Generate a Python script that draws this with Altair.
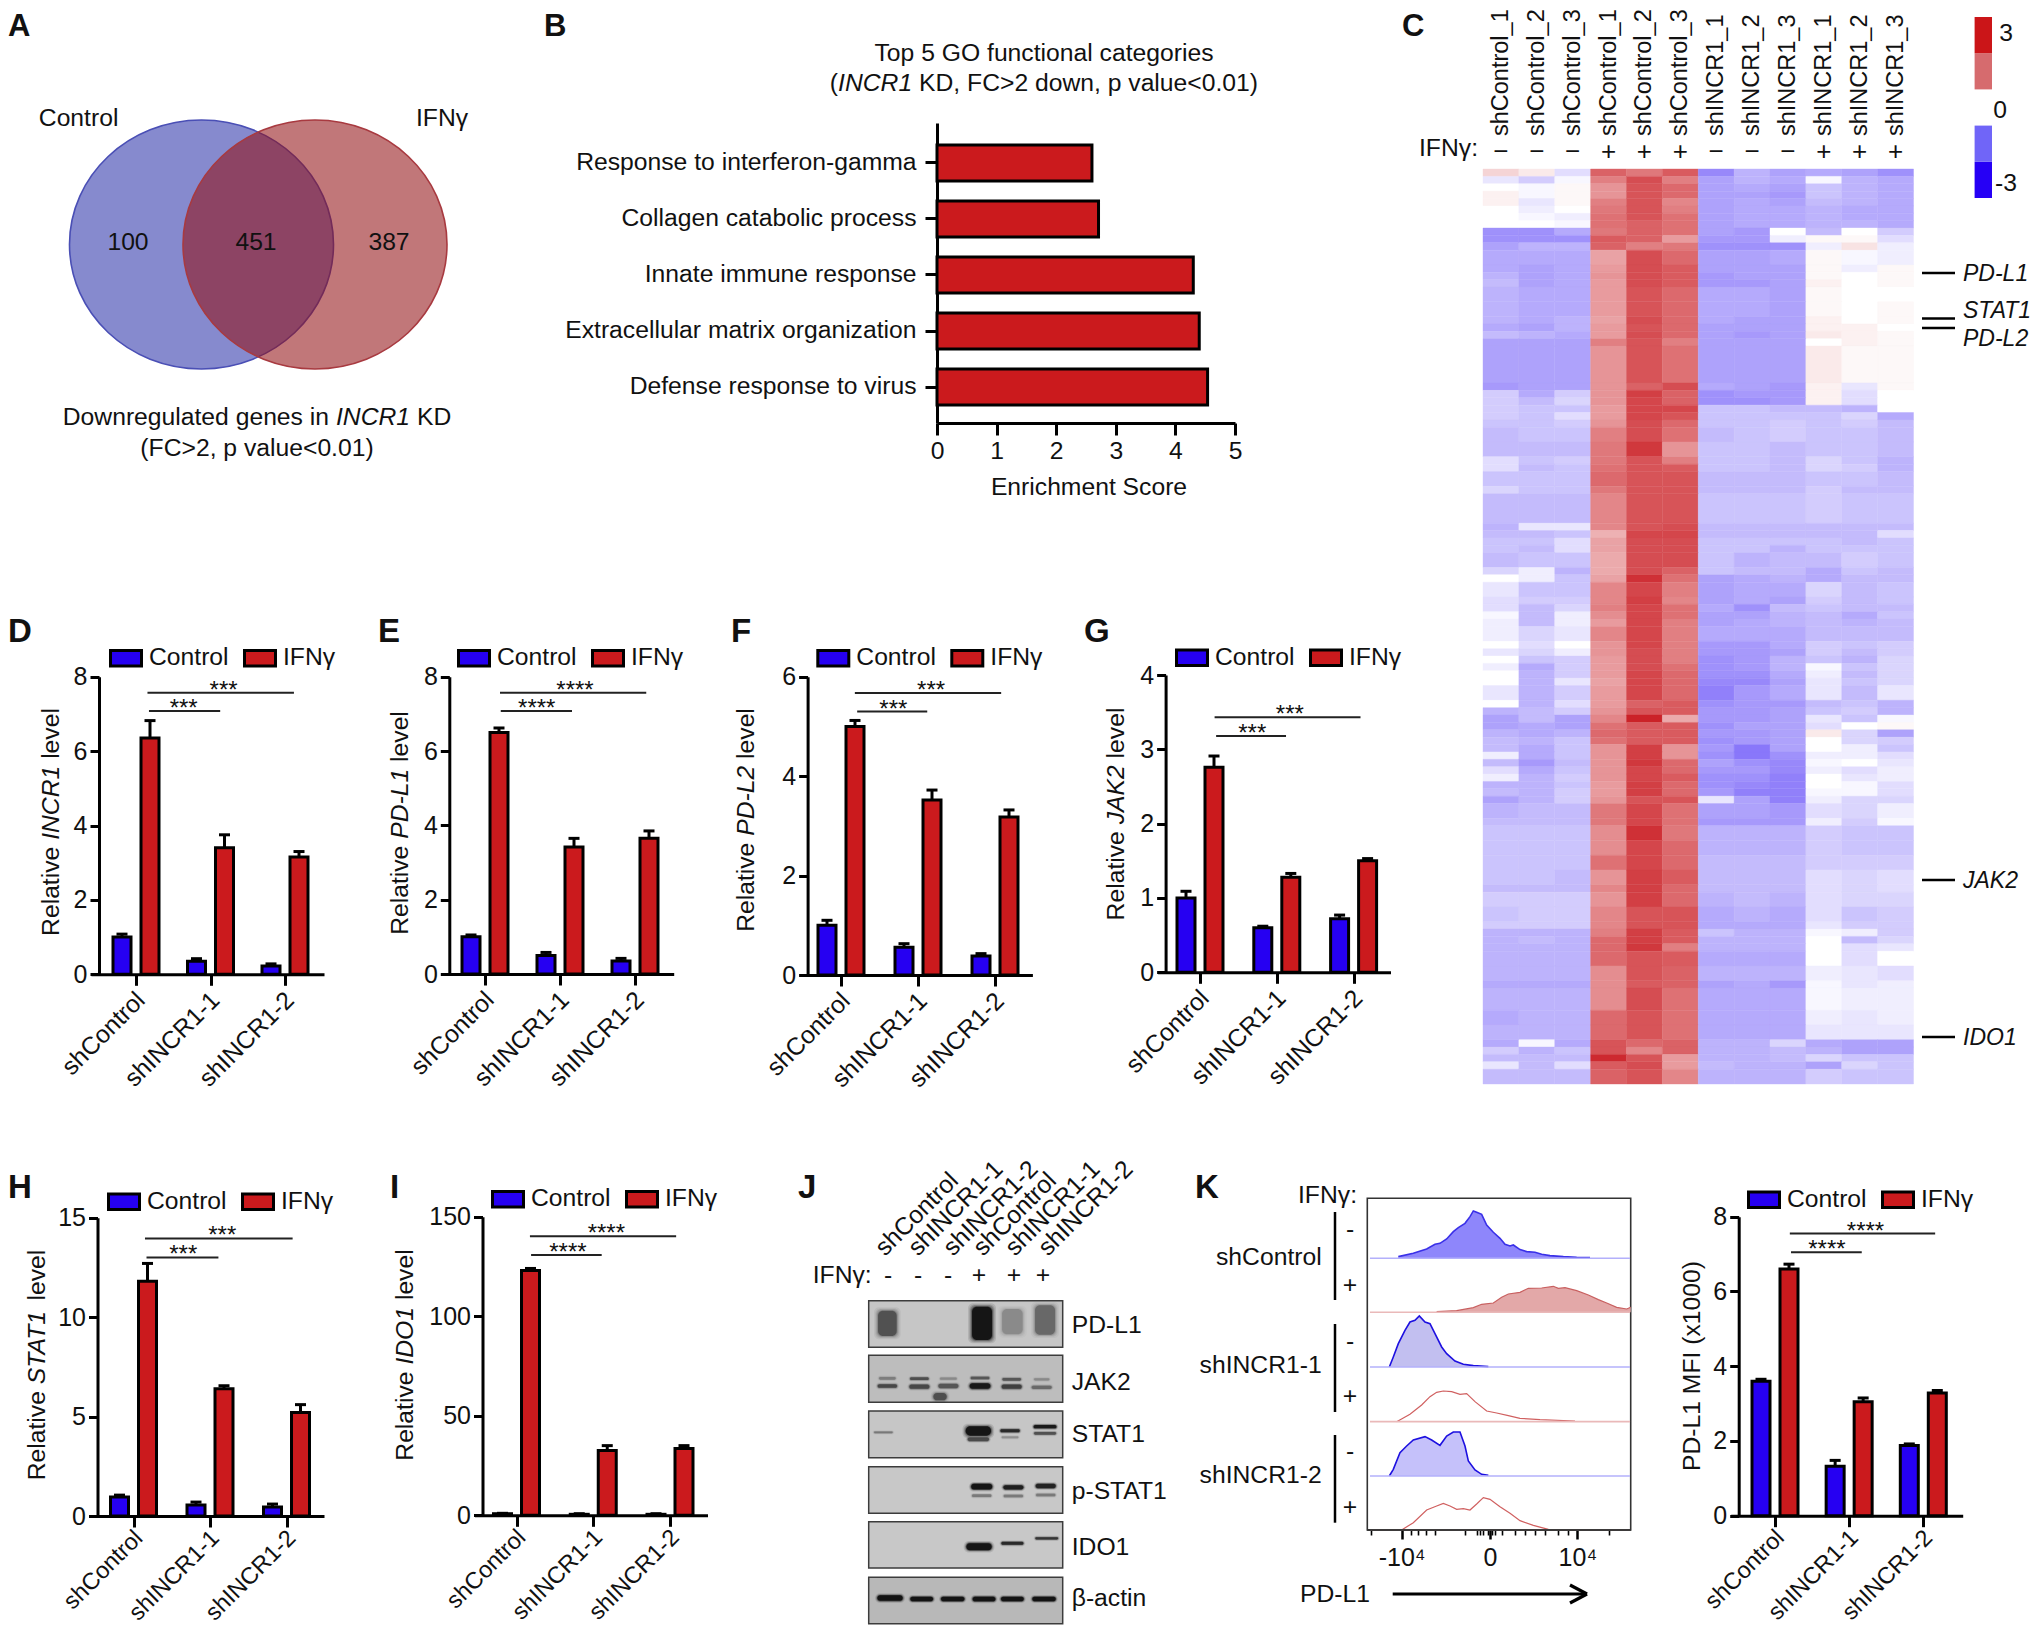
import altair as alt
import pandas as pd

FONT = "Liberation Sans"
W, H = 2024, 1617
M = 8
BLUE, RED = "#2600f2", "#cb1a1d"
INK = "#111111"
FS = 24.7

GROUPS = ["shControl", "shINCR1-1", "shINCR1-2"]

# ---------- panel B ----------
go_terms = ["Response to interferon-gamma", "Collagen catabolic process", "Innate immune response",
            "Extracellular matrix organization", "Defense response to virus"]
go_scores = [2.6, 2.71, 4.3, 4.4, 4.54]

# ---------- qPCR panels ----------
incr1_ctrl, incr1_ctrl_top = [1.0, 0.35, 0.22], [1.08, 0.42, 0.28]
incr1_ifn, incr1_ifn_top = [6.35, 3.4, 3.15], [6.82, 3.75, 3.3]
pdl1_ctrl, pdl1_ctrl_top = [1.0, 0.5, 0.35], [1.05, 0.58, 0.42]
pdl1_ifn, pdl1_ifn_top = [6.5, 3.42, 3.65], [6.62, 3.65, 3.85]
pdl2_ctrl, pdl2_ctrl_top = [1.0, 0.56, 0.38], [1.1, 0.63, 0.43]
pdl2_ifn, pdl2_ifn_top = [5.0, 3.52, 3.18], [5.12, 3.72, 3.32]
jak2_ctrl, jak2_ctrl_top = [1.0, 0.6, 0.72], [1.09, 0.62, 0.77]
jak2_ifn, jak2_ifn_top = [2.76, 1.28, 1.5], [2.91, 1.33, 1.53]
stat1_ctrl, stat1_ctrl_top = [0.95, 0.55, 0.45], [1.05, 0.7, 0.6]
stat1_ifn, stat1_ifn_top = [11.8, 6.4, 5.2], [12.7, 6.55, 5.6]
ido1_ctrl, ido1_ctrl_top = [0.8, 0.5, 0.5], [1.0, 0.8, 0.8]
ido1_ifn, ido1_ifn_top = [123, 32.5, 33.5], [124, 35, 35]
mfi_ctrl, mfi_ctrl_top = [3.6, 1.32, 1.88], [3.65, 1.48, 1.92]
mfi_ifn, mfi_ifn_top = [6.6, 3.05, 3.28], [6.73, 3.15, 3.35]

PANELS = [
    dict(c=incr1_ctrl, ct=incr1_ctrl_top, i=incr1_ifn, it=incr1_ifn_top, ymax=8, ticks=[0, 2, 4, 6, 8],
         x0=99, y0=974.3, ytop=676.7, xend=324, g0=136, g2=285, leg=(109, 656.7),
         up=(0.154, 2.12, 7.57, 1.176), lo=(0.174, 1.13, 7.08, 0.64), star="***",
         title=[("Relative ", 0), ("INCR1", 1), (" level", 0)], tx=52, ty=822),
    dict(c=pdl1_ctrl, ct=pdl1_ctrl_top, i=pdl1_ifn, it=pdl1_ifn_top, ymax=8, ticks=[0, 2, 4, 6, 8],
         x0=449.3, y0=974, ytop=676.7, xend=673.7, g0=485, g2=635, leg=(457, 656.7),
         up=(0.2, 2.15, 7.57, 1.2), lo=(0.21, 1.16, 7.08, 0.69), star="****",
         title=[("Relative ", 0), ("PD-L1", 1), (" level", 0)], tx=401, ty=823),
    dict(c=pdl2_ctrl, ct=pdl2_ctrl_top, i=pdl2_ifn, it=pdl2_ifn_top, ymax=6, ticks=[0, 2, 4, 6],
         x0=807.6, y0=975, ytop=676.7, xend=1032.4, g0=841, g2=995, leg=(816.3, 656.7),
         up=(0.18, 2.08, 5.67, 1.17), lo=(0.21, 1.12, 5.3, 0.68), star="***",
         title=[("Relative ", 0), ("PD-L2", 1), (" level", 0)], tx=746.7, ty=820),
    dict(c=jak2_ctrl, ct=jak2_ctrl_top, i=jak2_ifn, it=jak2_ifn_top, ymax=4, ticks=[0, 1, 2, 3, 4],
         x0=1165.6, y0=972.3, ytop=675, xend=1390.5, g0=1200, g2=1353.6, leg=(1175, 656),
         up=(0.19, 2.09, 3.43, 1.17), lo=(0.21, 1.12, 3.18, 0.68), star="***",
         title=[("Relative ", 0), ("JAK2", 1), (" level", 0)], tx=1117, ty=814),
    dict(c=stat1_ctrl, ct=stat1_ctrl_top, i=stat1_ifn, it=stat1_ifn_top, ymax=15, ticks=[0, 5, 10, 15],
         x0=97.5, y0=1516, ytop=1217.7, xend=324, g0=133.5, g2=286.5, leg=(107, 1200),
         up=(0.15, 2.08, 13.96, 1.16), lo=(0.17, 1.11, 13.0, 0.65), star="***",
         title=[("Relative ", 0), ("STAT1", 1), (" level", 0)], tx=37.5, ty=1365),
    dict(c=ido1_ctrl, ct=ido1_ctrl_top, i=ido1_ifn, it=ido1_ifn_top, ymax=150, ticks=[0, 50, 100, 150],
         x0=482.5, y0=1515.3, ytop=1216.7, xend=707.5, g0=516.5, g2=670, leg=(491, 1197.7),
         up=(0.175, 2.08, 140.2, 1.17), lo=(0.19, 1.11, 130.7, 0.67), star="****",
         title=[("Relative ", 0), ("IDO1", 1), (" level", 0)], tx=406, ty=1355),
    dict(c=mfi_ctrl, ct=mfi_ctrl_top, i=mfi_ifn, it=mfi_ifn_top, ymax=8, ticks=[0, 2, 4, 6, 8],
         x0=1738.7, y0=1515.7, ytop=1216.7, xend=1962.7, g0=1775, g2=1923.3, leg=(1747, 1198),
         up=(0.2, 2.16, 7.55, 1.22), lo=(0.216, 1.17, 7.05, 0.70), star="****",
         title=[("PD-L1 MFI (x1000)", 0)], tx=1692.7, ty=1366),
]

# ---------- panel C : heat map, (rows, values in tenths) top to bottom ----------
heat_cols = ["shControl_1", "shControl_2", "shControl_3"] * 2 + ["shINCR1_1", "shINCR1_2", "shINCR1_3"] * 2
heat_signs = ["\u2212"] * 3 + ["+"] * 3 + ["\u2212"] * 3 + ["+"] * 3
heat_bands = [
    (1, [6, 3, -4, 22, 19, 23, -14, -9, -11, -10, -11, -13]),
    (1, [-3, -6, -1, 18, 25, 18, -11, -9, -10, -1, -9, -10]),
    (1, [0, -1, 1, 15, 24, 21, -11, -10, -11, -7, -9, -10]),
    (1, [2, -1, 1, 15, 24, 21, -11, -11, -12, -7, -9, -10]),
    (1, [2, -3, 1, 18, 24, 17, -11, -10, -11, -8, -9, -10]),
    (1, [0, -2, 0, 19, 24, 18, -11, -10, -10, -9, -10, -10]),
    (1, [0, -1, -2, 20, 24, 20, -11, -10, -10, -9, -10, -10]),
    (1, [0, 0, -1, 20, 22, 20, -11, -10, -10, -9, -9, -10]),
    (1, [-13, -13, -10, 19, 22, 20, -11, -12, 0, -8, 0, -6]),
    (1, [-13, -13, -13, 23, 22, 14, -12, -12, -2, 1, 1, -4]),
    (1, [-11, -9, -9, 22, 18, 19, -13, -13, -13, -2, 4, -2]),
    (2, [-10, -10, -10, 13, 25, 21, -11, -11, -10, 1, -1, -2]),
    (1, [-10, -11, -10, 14, 25, 23, -11, -11, -11, 1, -2, 1]),
    (1, [-9, -11, -10, 15, 25, 23, -12, -11, -11, 1, 0, 1]),
    (1, [-8, -11, -10, 14, 25, 23, -12, -12, -11, 2, 0, 1]),
    (2, [-9, -10, -10, 14, 24, 21, -10, -10, -11, 1, 0, 0]),
    (2, [-9, -10, -10, 14, 24, 21, -10, -10, -11, 1, 0, 1]),
    (1, [-9, -10, -9, 13, 25, 21, -10, -11, -11, 2, 0, 1]),
    (1, [-10, -11, -9, 14, 24, 21, -11, -11, -11, 2, 2, 0]),
    (1, [-8, -9, -10, 14, 25, 21, -11, -12, -11, 3, 2, 1]),
    (1, [-11, -11, -11, 18, 24, 18, -11, -11, -11, 0, 2, 1]),
    (5, [-11, -11, -11, 15, 24, 20, -11, -11, -11, 3, 1, 1]),
    (1, [-12, -11, -11, 15, 22, 25, -10, -11, -12, 2, -3, 1]),
    (1, [-6, -10, -6, 15, 27, 22, -13, -12, -12, 2, -4, 0]),
    (1, [-6, -8, -5, 15, 26, 22, -13, -13, -12, 2, -4, 0]),
    (1, [-6, -7, -7, 14, 26, 26, -7, -7, -8, -8, -9, 0]),
    (1, [-6, -7, -4, 14, 26, 24, -7, -7, -7, -7, -5, -10]),
    (1, [-7, -7, -6, 15, 25, 21, -7, -7, -6, -7, -6, -8]),
    (2, [-8, -7, -7, 18, 25, 20, -8, -7, -6, -7, -7, -8]),
    (2, [-8, -8, -8, 19, 28, 15, -7, -7, -8, -7, -7, -8]),
    (1, [-4, -7, -6, 19, 24, 18, -7, -7, -8, -5, -7, -9]),
    (1, [-4, -8, -7, 20, 24, 23, -7, -7, -8, -5, -6, -9]),
    (2, [-7, -7, -7, 21, 24, 24, -8, -8, -8, -7, -7, -8]),
    (1, [-5, -7, -7, 19, 24, 24, -8, -8, -8, -6, -8, -8]),
    (4, [-8, -8, -8, 17, 24, 24, -7, -7, -7, -6, -7, -7]),
    (1, [-9, -3, -3, 17, 24, 25, -8, -8, -8, -8, -8, -8]),
    (1, [-8, -8, -7, 11, 26, 26, -8, -8, -8, -8, -8, -4]),
    (1, [-7, -7, -4, 13, 25, 25, -7, -7, -7, -7, -8, -7]),
    (1, [-7, -8, -4, 13, 25, 25, -7, -7, -9, -7, -7, -7]),
    (2, [-8, -7, -7, 12, 25, 25, -7, -9, -8, -8, -6, -7]),
    (1, [-5, -2, -9, 12, 25, 22, -7, -8, -8, -10, -7, -8]),
    (1, [0, -2, -7, 13, 29, 20, -11, -10, -9, -10, -8, -8]),
    (2, [-3, -7, -7, 17, 26, 18, -11, -10, -10, -5, -8, -7]),
    (1, [-4, -6, -6, 17, 27, 17, -11, -10, -11, -6, -8, -7]),
    (1, [-4, -8, -5, 18, 26, 20, -10, -13, -8, -7, -8, -8]),
    (1, [-1, -8, -2, 16, 26, 20, -11, -11, -9, -8, -10, -7]),
    (1, [-2, -8, -2, 14, 26, 18, -11, -10, -9, -8, -9, -8]),
    (2, [-2, -5, -3, 17, 26, 18, -10, -10, -10, -8, -8, -8]),
    (1, [0, -4, 0, 15, 26, 18, -12, -12, -10, -6, -7, -6]),
    (1, [-3, -5, -2, 15, 25, 18, -12, -12, -11, -6, -8, -6]),
    (1, [0, -7, -6, 14, 25, 18, -13, -12, -9, -7, -9, -5]),
    (1, [-2, -10, -6, 14, 25, 20, -13, -12, -9, -1, -7, -5]),
    (1, [0, -9, -6, 14, 26, 21, -13, -13, -10, -2, -8, -5]),
    (1, [0, -9, -3, 13, 26, 21, -14, -14, -11, -3, -7, -5]),
    (2, [-3, -9, -6, 14, 26, 21, -15, -12, -10, -3, -8, -3]),
    (1, [0, -9, -4, 14, 22, 23, -13, -12, -12, -8, -7, -9]),
    (1, [-9, -8, -6, 15, 24, 23, -12, -12, -11, -7, -6, -9]),
    (1, [-11, -8, -11, 17, 31, 12, -12, -12, -11, -3, -7, -1]),
    (1, [-11, -10, -11, 20, 23, 23, -13, -11, -11, -4, 0, 1]),
    (1, [-9, -10, -9, 21, 23, 23, -12, -12, -11, 3, -5, -11]),
    (1, [-8, -9, -7, 20, 23, 23, -13, -12, -11, 0, -5, -6]),
    (1, [-8, -10, -7, 15, 27, 15, -12, -16, -11, 0, -2, -7]),
    (1, [-2, -10, -7, 15, 27, 15, -13, -16, -13, -2, -2, -4]),
    (1, [-8, -12, -8, 15, 28, 21, -11, -13, -14, -1, 0, -3]),
    (1, [-4, -10, -7, 15, 26, 21, -12, -12, -14, -2, -4, -2]),
    (1, [-2, -9, -6, 15, 26, 23, -13, -13, -15, 0, -3, -2]),
    (1, [-9, -9, -7, 14, 27, 21, -13, -14, -15, 0, -1, -4]),
    (1, [-8, -9, -6, 14, 27, 21, -12, -15, -15, -1, -1, -4]),
    (1, [-11, -9, -6, 15, 24, 24, -3, -11, -15, -2, -5, -5]),
    (2, [-9, -8, -8, 19, 26, 20, -11, -11, -12, -4, -5, -2]),
    (1, [-8, -8, -8, 19, 26, 20, -12, -12, -12, -2, -6, -1]),
    (2, [-7, -7, -7, 16, 29, 19, -9, -9, -9, -6, -7, -7]),
    (2, [-7, -7, -7, 16, 26, 21, -9, -9, -9, -6, -7, -7]),
    (2, [-7, -7, -7, 20, 26, 21, -8, -8, -8, -6, -6, -6]),
    (2, [-7, -7, -8, 15, 27, 23, -8, -8, -8, -4, -5, -4]),
    (1, [-8, -8, -8, 17, 27, 21, -8, -8, -8, -4, -5, -4]),
    (2, [-6, -6, -6, 15, 27, 21, -9, -8, -9, -4, -5, -5]),
    (2, [-7, -6, -6, 17, 24, 24, -10, -9, -10, -4, -7, -6]),
    (1, [-6, -6, -6, 17, 24, 24, -10, -10, -10, -3, -6, -6]),
    (1, [-9, -9, -9, 18, 27, 23, -7, -9, -9, -1, -2, -6]),
    (1, [-9, -8, -9, 21, 27, 23, -9, -9, -9, 0, -8, -5]),
    (1, [-9, -9, -9, 21, 28, 18, -9, -9, -9, 0, -4, -3]),
    (2, [-9, -9, -9, 21, 24, 23, -10, -10, -10, 0, -4, 0]),
    (2, [-9, -9, -9, 16, 24, 22, -9, -9, -9, -2, -3, -4]),
    (1, [-10, -10, -10, 16, 23, 22, -11, -10, -12, -1, -3, -2]),
    (3, [-9, -9, -9, 16, 25, 20, -10, -10, -10, -1, -2, -2]),
    (2, [-10, -9, -9, 21, 24, 20, -10, -10, -10, -2, -3, -2]),
    (2, [-9, -9, -9, 21, 24, 20, -10, -10, -10, -3, -3, -3]),
    (1, [-10, -1, -10, 24, 21, 22, -9, -9, -5, -10, -11, -11]),
    (1, [-6, -9, -7, 24, 17, 22, -9, -9, -8, -9, -11, -11]),
    (1, [-8, -8, -8, 30, 24, 14, -9, -9, -8, -5, -7, -7]),
    (1, [-3, -8, -4, 23, 25, 14, -8, -9, -9, -11, -5, -7]),
    (2, [-8, -8, -8, 22, 24, 17, -9, -9, -9, -6, -7, -7]),
]
heat_key_lo = [-3, -1.8, 0.6, 1.8]
heat_key_hi = [-1.8, -0.6, 1.8, 3]
heat_key_col = ["#2600f5", "#7065f8", "#d66b6e", "#cb1518"]

# ---------- panel J : blots (gel image position), bands (cx, cy, w, h, darkness) ----------
blot_names = ["PD-L1", "JAK2", "STAT1", "p-STAT1", "IDO1", "\u03b2-actin"]
blot_top = [452, 616, 783, 950, 1115, 1282]
blot_bottom = [592, 757, 923, 1090, 1254, 1421]
blot_grey = ["#c6c6c6", "#bdbdbd", "#c6c6c6", "#c8c8c8", "#c8c8c8", "#b8b8b8"]
blot_bands = [
    (322, 520, 56, 76, .5), (606, 520, 60, 100, 1), (697, 515, 62, 76, .22), (795, 510, 60, 88, .38),
    (322, 708, 58, 11, .55), (322, 685, 50, 8, .25), (418, 710, 60, 13, .55), (418, 686, 56, 8, .5),
    (505, 708, 60, 13, .45), (505, 686, 50, 7, .2), (480, 740, 40, 22, .5), (600, 708, 62, 17, .95),
    (600, 684, 56, 8, .45), (695, 710, 60, 13, .6), (695, 688, 56, 8, .45), (785, 712, 60, 10, .35),
    (785, 688, 46, 7, .2), (310, 847, 56, 5, .3), (595, 843, 76, 28, 1), (595, 868, 64, 11, .55),
    (690, 842, 58, 9, .8), (690, 862, 50, 6, .2), (795, 830, 68, 10, .95), (795, 850, 66, 8, .5),
    (605, 1010, 63, 17, 1), (605, 1037, 58, 8, .3), (700, 1012, 60, 13, .9), (700, 1038, 58, 8, .3),
    (797, 1008, 60, 13, .85), (797, 1035, 58, 8, .3), (597, 1190, 76, 21, 1), (697, 1180, 66, 9, .8),
    (800, 1165, 68, 7, .7), (330, 1344, 76, 17, 1), (425, 1347, 68, 13, 1), (518, 1347, 70, 13, 1),
    (612, 1347, 68, 14, 1), (697, 1347, 68, 13, 1), (792, 1347, 70, 13, 1),
]

# ---------- panel K : histograms (channel position, event height) ----------
hist_base = [325, 487, 651, 815, 978, 1140]
hist_x = [
    [655, 700, 740, 765, 780, 800, 820, 835, 855, 870, 880, 890, 905, 920, 940, 960, 975, 990, 1000, 1020, 1040, 1065, 1085, 1110, 1150, 1190, 1230],
    [770, 830, 880, 905, 940, 965, 985, 1020, 1045, 1085, 1120, 1135, 1155, 1190, 1225, 1255, 1280, 1310, 1340, 1352],
    [628, 640, 655, 675, 690, 705, 718, 735, 750, 765, 785, 800, 825, 850, 880, 925],
    [650, 690, 725, 750, 770, 790, 815, 840, 860, 885, 920, 950, 985, 1020, 1080, 1185],
    [628, 640, 660, 680, 700, 735, 755, 780, 800, 820, 840, 855, 865, 885, 905, 925],
    [665, 700, 740, 770, 790, 810, 830, 850, 870, 890, 910, 930, 960, 990, 1020, 1060, 1105],
]
hist_h = [
    [5, 15, 28, 42, 45, 58, 80, 92, 105, 125, 142, 138, 132, 100, 78, 60, 42, 37, 40, 26, 20, 18, 12, 8, 5, 3, 2],
    [2, 5, 14, 24, 28, 45, 55, 60, 72, 73, 78, 72, 74, 65, 52, 38, 28, 15, 10, 15],
    [0, 30, 70, 110, 135, 140, 153, 135, 130, 100, 60, 40, 18, 8, 4, 1],
    [0, 22, 50, 75, 88, 92, 90, 82, 84, 60, 32, 26, 18, 10, 6, 2],
    [0, 20, 70, 90, 108, 118, 108, 92, 120, 132, 132, 90, 45, 18, 5, 2],
    [0, 22, 60, 72, 80, 72, 62, 64, 60, 78, 97, 92, 70, 50, 28, 14, 2],
]
hist_fill = ["#8e86fb", "#e3a8a8", "#c2bff0", "#ffffff", "#c5c1fa", "#ffffff"]
hist_line = ["#3a30e8", "#c86060", "#1d10e0", "#d06060", "#1d10e0", "#d06060"]
hist_foot = ["#b3b0fb", "#eab9b9", "#b3b0fb", "#eab9b9", "#b3b0fb", "#eab9b9"]
flow_minor = [574, 693, 715, 737, 766, 855, 890, 900, 910, 925, 935, 945, 965, 1005, 1035, 1065, 1095, 1135, 1165, 1288]

# ---------- helpers ----------
CW = {' ': 278, '(': 333, ')': 333, ',': 278, '-': 333, '.': 278, '<': 584, '>': 584, '_': 556,
      'A': 667, 'B': 667, 'C': 722, 'D': 722, 'E': 667, 'F': 611, 'G': 778, 'H': 722, 'I': 278, 'J': 500, 'K': 667,
      'L': 556, 'M': 833, 'N': 722, 'O': 778, 'P': 667, 'Q': 778, 'R': 722, 'S': 667, 'T': 611, 'U': 722, 'V': 667,
      'W': 944, 'X': 667, 'Y': 667, 'Z': 611, 'a': 556, 'b': 556, 'c': 500, 'd': 556, 'e': 556, 'f': 278, 'g': 556,
      'h': 556, 'i': 222, 'j': 222, 'k': 500, 'l': 222, 'm': 833, 'n': 556, 'o': 556, 'p': 556, 'q': 556, 'r': 333,
      's': 500, 't': 278, 'u': 556, 'v': 500, 'w': 722, 'x': 500, 'y': 500, 'z': 500}


def tw(s, size=FS):
    return sum(CW.get(ch, 556) for ch in s) * size / 1000


LABELS = []
LINES = []


def lab(t, x, y, size=FS, align="center", baseline="middle", style="normal", weight="normal", angle=0):
    LABELS.append(dict(t=t, x=max(x, 8) - M, y=y - M + (1 if baseline == "middle" and angle == 0 else 0),
                       size=size, align=align, baseline=baseline, style=style, weight=weight, angle=angle))


def rich_h(parts, cx, y, size=FS):
    total = sum(tw(p, size) for p, _ in parts)
    x = cx - total / 2
    for p, it in parts:
        lead = tw(p[: len(p) - len(p.lstrip())], size)
        lab(p.strip(), x + lead, y, size, "left", "middle", "italic" if it else "normal")
        x += tw(p, size)


def rich_v(parts, x, cy, size=FS):
    total = sum(tw(p, size) for p, _ in parts)
    y = cy + total / 2
    for p, it in parts:
        lead = tw(p[: len(p) - len(p.lstrip())], size)
        lab(p.strip(), x, y - lead, size, "left", "middle", "italic" if it else "normal", angle=270)
        y -= tw(p, size)


def line(x, y, x2, y2, width=2.5, color="black"):
    LINES.append(dict(x=x - M, y=y - M, x2=x2 - M, y2=y2 - M, width=width, color=color))


layers = []

# ---------- letters ----------
for t, x, y, sz in [("A", 8, 36, 31), ("B", 544, 36, 31), ("C", 1402, 36, 31), ("D", 8, 642, 33), ("E", 378, 642, 33),
                    ("F", 731, 642, 33), ("G", 1084, 642, 33), ("H", 8, 1198, 33), ("I", 390, 1198, 33),
                    ("J", 798, 1198, 33), ("K", 1195, 1198, 33)]:
    lab(t, x, y, sz, "left", "alphabetic", weight="bold")

# ---------- A : Venn ----------
venn = pd.DataFrame({"set": ["Control", "IFNγ"], "x": [201.5 - M, 315 - M], "y": [244.5 - M, 244.5 - M]})
ELL = "M-1,0A1,0.943,0,1,1,1,0A1,0.943,0,1,1,-1,0Z"
for name, fill, stroke in [("Control", "#2a31a8", "#4a4fb5"), ("IFNγ", "#921014", "#a83a40")]:
    layers.append(alt.Chart(venn[venn.set == name]).mark_point(
        shape=ELL, size=264 ** 2, filled=True, fill=fill, fillOpacity=.57, stroke=stroke, strokeWidth=1.6, strokeOpacity=1
    ).encode(x=alt.X("x:Q", scale=None, axis=None), y=alt.Y("y:Q", scale=None, axis=None)))
lab("Control", 78.6, 117.7)
lab("IFNγ", 442, 117.7)
lab("100", 128, 242)
lab("451", 256, 242)
lab("387", 389, 242)
rich_h([("Downregulated genes in ", 0), ("INCR1", 1), (" KD", 0)], 257, 417)
lab("(FC>2, p value<0.01)", 257, 447.7)

# ---------- B ----------
b_df = pd.DataFrame({"term": go_terms, "score": go_scores})
layers.append(alt.Chart(b_df).mark_bar(fill=RED, stroke="black", strokeWidth=3).encode(
    x=alt.X("score:Q", scale=alt.Scale(domain=[0, 5], range=[937 - M, 1235 - M], nice=False),
            axis=alt.Axis(orient="bottom", offset=423 - M - H, values=[0, 1, 2, 3, 4, 5], title=None, grid=False,
                          domainWidth=3, tickWidth=3, tickSize=12, labelFontSize=FS, labelPadding=3, labelFlush=False,
                          labelFont=FONT, labelColor=INK, domainColor="black", tickColor="black")),
    y=alt.Y("term:N", sort=go_terms,
            scale=alt.Scale(domain=go_terms, range=[123 - M, 423 - M], paddingInner=.357, paddingOuter=.357, align=.55),
            axis=alt.Axis(orient="left", offset=-(937 - M), title=None, grid=False, domainWidth=3, tickWidth=3,
                          tickSize=12, labelFontSize=FS, labelPadding=9, labelFont=FONT, labelColor=INK,
                          domainColor="black", tickColor="black", labelLimit=500)),
))
lab("Top 5 GO functional categories", 1044, 53)
rich_h([("(", 0), ("INCR1", 1), (" KD, FC>2 down, p value<0.01)", 0)], 1044, 83)
lab("Enrichment Score", 1089, 487)

# ---------- bar panels ----------
for p in PANELS:
    low_row = p["y0"] > 1200
    sp = (p["g2"] - p["g0"]) / 2
    dom = [(p["x0"] - 8 - p["g0"]) / sp, (p["xend"] - p["g0"]) / sp]
    xs = alt.Scale(domain=dom, range=[p["x0"] - 8 - M, p["xend"] - M], nice=False, zero=False)
    ys = alt.Scale(domain=[0, p["ymax"]], range=[p["y0"] - M, p["ytop"] - M], nice=False)
    off, half, cap = 14 / sp, 9 / sp, 5.5 / sp
    rows = []
    for g in range(3):
        rows.append(dict(series="Control", xa=g - off - half, xb=g - off + half, xc=g - off, xl=g - off - cap,
                         xr=g - off + cap, v=p["c"][g], top=p["ct"][g], zero=0))
        rows.append(dict(series="IFNγ", xa=g + off - half, xb=g + off + half, xc=g + off, xl=g + off - cap,
                         xr=g + off + cap, v=p["i"][g], top=p["it"][g], zero=0))
    df = pd.DataFrame(rows)
    nx = alt.X("xc:Q", scale=xs, axis=None)
    ny = alt.Y("v:Q", scale=ys, axis=None)
    layers.append(alt.Chart(df).mark_rule(stroke="black", strokeWidth=3).encode(
        x=nx, y=ny, y2=alt.Y2("top:Q")))
    layers.append(alt.Chart(df).mark_rule(stroke="black", strokeWidth=3).encode(
        x=alt.X("xl:Q", scale=xs, axis=None), x2=alt.X2("xr:Q"), y=alt.Y("top:Q", scale=ys, axis=None)))
    layers.append(alt.Chart(df).mark_rect(stroke="black", strokeWidth=3).encode(
        x=alt.X("xa:Q", scale=xs, axis=alt.Axis(
            orient="bottom", offset=p["y0"] - M - H, values=[0, 1, 2], title=None, grid=False,
            labelExpr="['shControl','shINCR1-1','shINCR1-2'][datum.value]", labelAngle=315, labelAlign="right",
            labelBaseline="middle", labelPadding=7 if low_row else 11, labelOffset=5, labelFlush=False, tickSize=11,
            tickWidth=3, domainWidth=3, labelFontSize=23.5 if low_row else FS, labelFont=FONT, labelColor=INK,
            domainColor="black", tickColor="black", labelOverlap=False)),
        x2=alt.X2("xb:Q"),
        y=alt.Y("zero:Q", scale=ys, axis=alt.Axis(
            orient="left", offset=-(p["x0"] - M), values=p["ticks"], title=None, grid=False, format="d",
            tickSize=9, tickWidth=3, domainWidth=3, labelFontSize=25, labelPadding=3, labelFont=FONT,
            labelColor=INK, domainColor="black", tickColor="black")),
        y2=alt.Y2("v:Q"),
        color=alt.Color("series:N", scale=alt.Scale(domain=["Control", "IFNγ"], range=[BLUE, RED]),
                        legend=alt.Legend(title=None, orient="none", legendX=p["leg"][0] - M,
                                          legendY=p["leg"][1] - M - 15.5, columns=2,
                                          symbolType="M-1,-0.5H1V0.5H-1Z", symbolSize=961,
                                          symbolStrokeColor="black", symbolStrokeWidth=3, labelFontSize=FS,
                                          labelFont=FONT, labelColor=INK, labelOffset=6, columnPadding=9)),
    ))
    sig = pd.DataFrame({"a": [p["up"][0], p["lo"][0]], "b": [p["up"][1], p["lo"][1]], "lv": [p["up"][2], p["lo"][2]],
                        "s": [p["up"][3], p["lo"][3]], "t": [p["star"], p["star"]]})
    layers.append(alt.Chart(sig).mark_rule(stroke="#222222", strokeWidth=2).encode(
        x=alt.X("a:Q", scale=xs, axis=None), x2=alt.X2("b:Q"), y=alt.Y("lv:Q", scale=ys, axis=None)))
    layers.append(alt.Chart(sig).mark_text(font=FONT, fontSize=24, color=INK, baseline="alphabetic", dy=5).encode(
        x=alt.X("s:Q", scale=xs, axis=None), y=alt.Y("lv:Q", scale=ys, axis=None), text="t:N"))
    rich_v(p["title"], p["tx"], p["ty"])

# ---------- C ----------
hrows = []
pos = 0
for n, vals in heat_bands:
    for c, v in enumerate(vals):
        hrows.append(dict(c0=c, c1=c + 1, r0=pos, r1=pos + n, v=v / 10))
    pos += n
hx = alt.Scale(domain=[0, 12], range=[1483 - M, 1913.5 - M], nice=False, zero=False)
hy = alt.Scale(domain=[0, pos], range=[169 - M, 1084 - M], nice=False, zero=False)
hcol = alt.Scale(domain=[-3, 0, 3.3], range=["#2200f5", "#ffffff", "#c8141a"], interpolate="rgb")
layers.append(alt.Chart(pd.DataFrame(hrows)).mark_rect(strokeWidth=.4).encode(
    x=alt.X("c0:Q", scale=hx, axis=None), x2=alt.X2("c1:Q"),
    y=alt.Y("r0:Q", scale=hy, axis=None), y2=alt.Y2("r1:Q"),
    color=alt.Color("v:Q", scale=hcol, legend=None),
    stroke=alt.Stroke("v:Q", scale=hcol, legend=None)))
head = pd.DataFrame({"xc": [i + .5 for i in range(12)], "n": heat_cols, "s": heat_signs})
layers.append(alt.Chart(head).mark_text(font=FONT, fontSize=23.5, color=INK, angle=270, align="left", baseline="middle").encode(
    x=alt.X("xc:Q", scale=hx, axis=None), y=alt.value(136 - M), text="n:N"))
layers.append(alt.Chart(head).mark_text(font=FONT, fontSize=26, color=INK, baseline="middle").encode(
    x=alt.X("xc:Q", scale=hx, axis=None), y=alt.value(152 - M), text="s:N"))
lab("IFNγ:", 1478, 148, align="right")
key = pd.DataFrame({"lo": heat_key_lo, "hi": heat_key_hi, "c": heat_key_col})
layers.append(alt.Chart(key).mark_rect().encode(
    x=alt.value(1974.6 - M), x2=alt.value(1992 - M),
    y=alt.Y("lo:Q", scale=alt.Scale(domain=[-3, 3], range=[198 - M, 17 - M], nice=False), axis=None), y2=alt.Y2("hi:Q"),
    color=alt.Color("c:N", scale=None, legend=None)))
lab("3", 2006, 33)
lab("0", 2000, 110)
lab("-3", 2006, 183)
for name, ln, ty in [("PD-L1", 273, 273), ("STAT1", 318.5, 310), ("PD-L2", 328, 338), ("JAK2", 880, 880), ("IDO1", 1037, 1037)]:
    line(1922, ln, 1955, ln, 2.5)
    lab(name, 1963, ty, size=23, align="left", style="italic")

# ---------- J ----------
gx = alt.Scale(domain=[266, 848], range=[868.7 - M, 1062.7 - M], nice=False, zero=False)
gy = alt.Scale(domain=[452, 1421], range=[1300.7 - M, 1623.7 - M], nice=False, zero=False)
frames = pd.DataFrame({"l": [266] * 6, "r": [848] * 6, "t": blot_top, "b": blot_bottom, "g": blot_grey})
layers.append(alt.Chart(frames).mark_rect(stroke="#3c3c3c", strokeWidth=1.5).encode(
    x=alt.X("l:Q", scale=gx, axis=None), x2=alt.X2("r:Q"), y=alt.Y("t:Q", scale=gy, axis=None), y2=alt.Y2("b:Q"),
    color=alt.Color("g:N", scale=None, legend=None)))
brows = []
for cx, cy, w, h, d in blot_bands:
    soft = .3 + .7 * min(1, h / 40)
    for dw, dh, k in [(24, 20, .1), (16, 13, .14), (10, 8, .2), (5, 3, .3), (0, 0, .75)]:
        ww, hh = w + dw * soft, h + dh * soft
        brows.append(dict(a=cx - ww / 2, b=cx + ww / 2, c=cy - hh / 2, e=cy + hh / 2, o=d * k))
layers.append(alt.Chart(pd.DataFrame(brows)).mark_rect(fill="#000000", cornerRadius=5, strokeWidth=0).encode(
    x=alt.X("a:Q", scale=gx, axis=None), x2=alt.X2("b:Q"), y=alt.Y("c:Q", scale=gy, axis=None), y2=alt.Y2("e:Q"),
    opacity=alt.Opacity("o:Q", scale=None, legend=None)))
for n, y in zip(blot_names, [1325, 1381.7, 1434, 1490.7, 1546.7, 1598]):
    lab(n, 1071.7, y, align="left")
for n, x in zip(GROUPS + GROUPS, [880, 913, 948, 978, 1010, 1043]):
    lab(n, x, 1252, align="left", angle=315)
lab("IFNγ:", 871.7, 1275, align="right")
for s, x in zip(["-", "-", "-", "+", "+", "+"], [888, 918, 948, 979, 1014, 1043]):
    lab(s, x, 1275)

# ---------- K histograms ----------
fx = alt.Scale(domain=[562, 1352], range=[1367.3 - M, 1630.7 - M], nice=False, zero=False)
fy = alt.Scale(domain=[145, 1140], range=[1198.3 - M, 1530 - M], nice=False, zero=False)
box = pd.DataFrame({"a": [562], "b": [1352], "c": [145], "e": [1140]})
layers.append(alt.Chart(box).mark_rect(fill="#ffffff", stroke="#333333", strokeWidth=1.6).encode(
    x=alt.X("a:Q", scale=fx, axis=None), x2=alt.X2("b:Q"), y=alt.Y("c:Q", scale=fy, axis=None), y2=alt.Y2("e:Q")))
for i in range(6):
    hd = pd.DataFrame({"x": hist_x[i], "top": [hist_base[i] - v for v in hist_h[i]], "base": [hist_base[i]] * len(hist_x[i])})
    layers.append(alt.Chart(hd).mark_area(fill=hist_fill[i], fillOpacity=1).encode(
        x=alt.X("x:Q", scale=fx, axis=None), y=alt.Y("top:Q", scale=fy, axis=None), y2=alt.Y2("base:Q")))
    layers.append(alt.Chart(hd).mark_line(stroke=hist_line[i], strokeWidth=1.6 if i in (0, 2, 4) else 1.2).encode(
        x=alt.X("x:Q", scale=fx, axis=None), y=alt.Y("top:Q", scale=fy, axis=None)))
    foot = pd.DataFrame({"a": [570], "b": [1350], "y": [hist_base[i]]})
    layers.append(alt.Chart(foot).mark_rule(stroke=hist_foot[i], strokeWidth=1.6).encode(
        x=alt.X("a:Q", scale=fx, axis=None), x2=alt.X2("b:Q"), y=alt.Y("y:Q", scale=fy, axis=None)))
ax_df = pd.DataFrame({"x": [562, 1352], "y": [1140, 1140]})
layers.append(alt.Chart(ax_df).mark_line(stroke="#333333", strokeWidth=1.6).encode(
    x=alt.X("x:Q", scale=fx, axis=alt.Axis(
        orient="bottom", offset=1530 - M - H, values=[665, 930, 1192], title=None, grid=False, domain=False,
        labelExpr="datum.value < 700 ? '-10\u2074' : (datum.value < 1000 ? '0' : '10\u2074')", labelFlush=False,
        tickSize=9, tickWidth=2.5, tickColor="black", labelFontSize=25, labelFont=FONT, labelColor=INK, labelPadding=6)),
    y=alt.Y("y:Q", scale=fy, axis=None)))
layers.append(alt.Chart(ax_df).mark_line(stroke="#333333", strokeWidth=1.6).encode(
    x=alt.X("x:Q", scale=fx, axis=alt.Axis(
        orient="bottom", offset=1530 - M - H, values=flow_minor, title=None, grid=False, domain=False, labels=False,
        tickSize=5, tickWidth=1.6, tickColor="black")),
    y=alt.Y("y:Q", scale=fy, axis=None)))
lab("IFNγ:", 1357, 1195, align="right")
for n, y in [("shControl", 1257), ("shINCR1-1", 1365), ("shINCR1-2", 1475)]:
    lab(n, 1321.7, y, align="right")
for a, b in [(1212, 1300), (1324, 1412), (1435, 1522.7)]:
    line(1335, a, 1335, b, 2.5)
for s, y in [("-", 1229), ("+", 1285), ("-", 1340.7), ("+", 1396), ("-", 1451), ("+", 1506.7)]:
    lab(s, 1350, y)
lab("PD-L1", 1300, 1594, align="left")
line(1392.7, 1594, 1586, 1594, 3)
line(1570, 1585, 1587, 1594, 3.2)
line(1570, 1603, 1587, 1594, 3.2)

# ---------- annotation layers ----------
ldf = pd.DataFrame(LINES)
for (wd, col), g in ldf.groupby(["width", "color"]):
    layers.append(alt.Chart(g).mark_rule(strokeWidth=wd, stroke=col).encode(
        x=alt.X("x:Q", scale=None, axis=None), x2=alt.X2("x2:Q"),
        y=alt.Y("y:Q", scale=None, axis=None), y2=alt.Y2("y2:Q")))
tdf = pd.DataFrame(LABELS)
for (size, align, base, style, weight, angle), g in tdf.groupby(["size", "align", "baseline", "style", "weight", "angle"]):
    layers.append(alt.Chart(g).mark_text(font=FONT, fontSize=size, align=align, baseline=base, fontStyle=style,
                                         fontWeight=weight, angle=angle, color=INK).encode(
        x=alt.X("x:Q", scale=None, axis=None), y=alt.Y("y:Q", scale=None, axis=None), text="t:N"))

chart = (alt.layer(*layers)
         .resolve_scale(x="independent", y="independent", color="independent", stroke="independent", opacity="independent")
         .resolve_legend(color="independent")
         .properties(width=W, height=H, padding=0, autosize=alt.AutoSizeParams(type="none"), background="white")
         .configure_view(stroke=None))

chart.save("out.html", embed_options={"renderer": "svg", "actions": False})
